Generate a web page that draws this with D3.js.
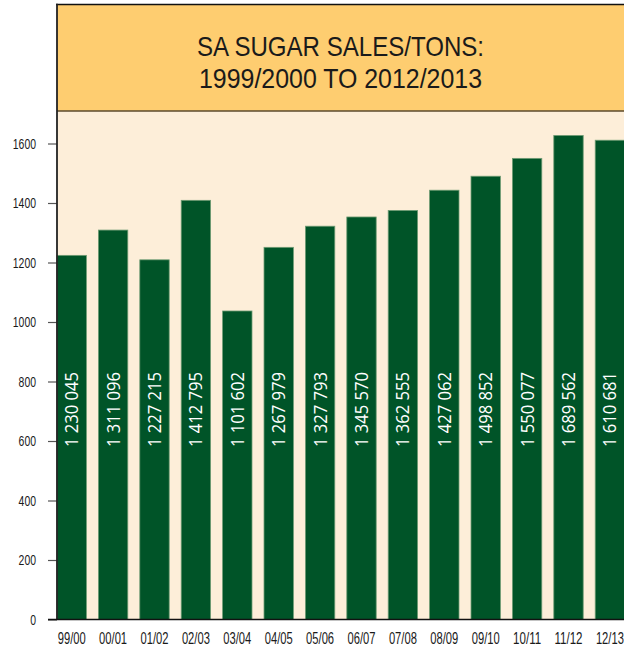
<!DOCTYPE html>
<html>
<head>
<meta charset="utf-8">
<script src="https://cdn.jsdelivr.net/npm/d3@7"></script>
<style>
  html, body { margin: 0; padding: 0; background: #ffffff; }
  svg { display: block; }
</style>
</head>
<body>
<div id="chart"></div>
<script>
const seasons = ['99/00', '00/01', '01/02', '02/03', '03/04', '04/05', '05/06', '06/07', '07/08', '08/09', '09/10', '10/11', '11/12', '12/13'];
// bar heights as drawn (thousand tons)
const barHeights = [1224, 1309, 1209, 1409, 1037, 1251, 1322, 1353, 1375, 1443, 1490, 1550, 1627, 1611];
// printed labels inside the bars
const barLabels = ['1 230 045', '1 311 096', '1 227 215', '1 412 795', '1 101 602', '1 267 979', '1 327 793',
  '1 345 570', '1 362 555', '1 427 062', '1 498 852', '1 550 077', '1 689 562', '1 610 681'];
const yTicks = [0, 200, 400, 600, 800, 1000, 1200, 1400, 1600];
const titleLines = ['SA SUGAR SALES/TONS:', '1999/2000 TO 2012/2013'];

const W = 624, H = 648;
const leftX = 57, topY = 4.5, titleBottom = 111, baseY = 619.5;
const sans = '"Liberation Sans", Arimo, Arial, sans-serif';

const svg = d3.select('#chart')
  .append('svg')
  .attr('width', W)
  .attr('height', H);

// title panel
svg.append('rect')
  .attr('x', leftX).attr('y', topY)
  .attr('width', W - leftX + 2).attr('height', titleBottom - topY)
  .attr('fill', '#fecd70');

// plot background
svg.append('rect')
  .attr('x', leftX).attr('y', titleBottom)
  .attr('width', W - leftX + 2).attr('height', baseY - titleBottom)
  .attr('fill', '#fdeed9');

svg.append('line')
  .attr('x1', leftX).attr('x2', W + 2)
  .attr('y1', titleBottom).attr('y2', titleBottom)
  .attr('stroke', '#5b4a2c').attr('stroke-width', 1.5);
svg.append('line')
  .attr('x1', leftX - 1).attr('x2', W + 2)
  .attr('y1', topY).attr('y2', topY)
  .attr('stroke', '#111').attr('stroke-width', 1.5);

// condensed look: squeeze the glyphs to the widths of the original
const titleWidths = [287, 283];
svg.selectAll('.title')
  .data(titleLines)
  .enter()
  .append('text')
  .attr('class', 'title')
  .attr('x', (leftX + W) / 2)
  .attr('y', (d, i) => 56 + i * 32)
  .attr('text-anchor', 'middle')
  .attr('font-family', sans)
  .attr('font-size', 28)
  .attr('textLength', (d, i) => titleWidths[i])
  .attr('lengthAdjust', 'spacingAndGlyphs')
  .attr('fill', '#1a1a1a')
  .text(d => d);

const x = d3.scaleBand()
  .domain(seasons)
  .range([leftX, 624.6])
  .paddingInner(0.29)
  .paddingOuter(0);

const y = d3.scaleLinear()
  .domain([0, 1600])
  .range([baseY, 143.5]);

// bars
svg.append('g')
  .selectAll('rect')
  .data(barHeights)
  .enter()
  .append('rect')
  .attr('x', (d, i) => x(seasons[i]))
  .attr('y', d => y(d))
  .attr('width', x.bandwidth())
  .attr('height', d => baseY - y(d))
  .attr('fill', '#005428')
  .attr('stroke', '#6f9c74')
  .attr('stroke-width', 0.8);

// value labels
svg.append('g')
  .selectAll('text')
  .data(barLabels)
  .enter()
  .append('text')
  .attr('transform', (d, i) => `translate(${x(seasons[i]) + x.bandwidth() / 2}, 447) rotate(-90)`)
  .attr('dy', '0.36em')
  .attr('font-family', '"Open Sans", "Noto Sans", sans-serif')
  .attr('font-size', 18)
  .attr('textLength', 75)
  .attr('lengthAdjust', 'spacingAndGlyphs')
  .attr('fill', '#ffffff')
  .text(d => d);

// y axis
const yAxis = d3.axisLeft(y)
  .tickValues(yTicks)
  .tickSize(9)
  .tickPadding(12)
  .tickFormat(d => d);

const gy = svg.append('g')
  .attr('transform', `translate(${leftX},0)`)
  .call(yAxis);
gy.select('.domain').remove();
gy.selectAll('.tick line').attr('stroke', '#555').attr('stroke-width', 1.2);
gy.selectAll('.tick text')
  .attr('font-family', sans)
  .attr('font-size', 15)
  .attr('textLength', d => String(d).length * 5.8)
  .attr('lengthAdjust', 'spacingAndGlyphs')
  .attr('fill', '#1a1a1a');

svg.append('line')
  .attr('x1', leftX).attr('x2', leftX)
  .attr('y1', topY - 0.7).attr('y2', baseY)
  .attr('stroke', '#222').attr('stroke-width', 1.8);

// x axis
const xAxis = d3.axisBottom(x)
  .tickSize(0)
  .tickPadding(13);

const gx = svg.append('g')
  .attr('transform', `translate(0,${baseY})`)
  .call(xAxis);
gx.select('.domain').remove();
gx.selectAll('.tick text')
  .attr('font-family', sans)
  .attr('font-size', 16)
  .attr('textLength', 28)
  .attr('lengthAdjust', 'spacingAndGlyphs')
  .attr('fill', '#1a1a1a');

svg.append('line')
  .attr('x1', leftX - 9).attr('x2', W + 2)
  .attr('y1', baseY).attr('y2', baseY)
  .attr('stroke', '#111').attr('stroke-width', 1.3);
</script>
</body>
</html>
